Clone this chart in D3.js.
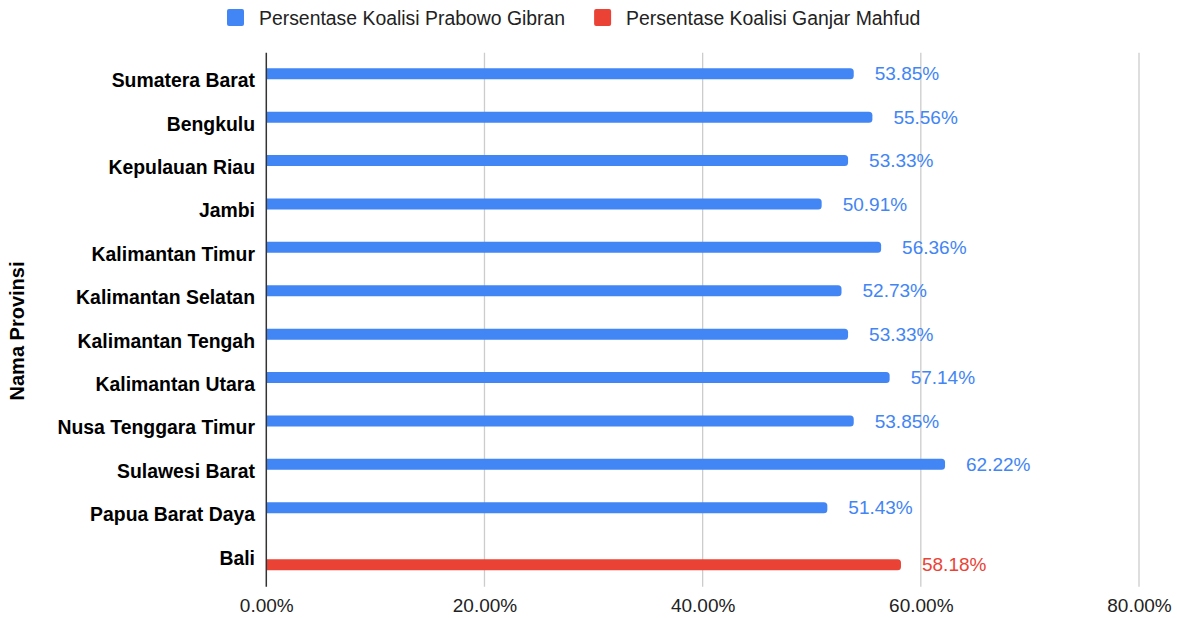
<!DOCTYPE html>
<html>
<head>
<meta charset="utf-8">
<script src="https://cdn.jsdelivr.net/npm/d3@7"></script>
<style>
  body { margin: 0; background: #fff; }
  text { font-family: Arial, "Liberation Sans", sans-serif; }
</style>
</head>
<body>
<div id="chart"></div>
<script>
// data
var provinces = ["Sumatera Barat", "Bengkulu", "Kepulauan Riau", "Jambi", "Kalimantan Timur",
  "Kalimantan Selatan", "Kalimantan Tengah", "Kalimantan Utara", "Nusa Tenggara Timur",
  "Sulawesi Barat", "Papua Barat Daya", "Bali"];
var seriesNames = ["Persentase Koalisi Prabowo Gibran", "Persentase Koalisi Ganjar Mahfud"];
var seriesColors = ["#4285f4", "#ea4335"];
// null = no bar for that province
var prabowoGibran = [0.5385, 0.5556, 0.5333, 0.5091, 0.5636, 0.5273, 0.5333, 0.5714, 0.5385, 0.6222, 0.5143, null];
var ganjarMahfud = [null, null, null, null, null, null, null, null, null, null, null, 0.5818];
var xTicks = [0, 0.2, 0.4, 0.6, 0.8];

var width = 1177, height = 618;

var svg = d3.select("#chart").append("svg")
  .attr("width", width)
  .attr("height", height);

// scales
var x = d3.scaleLinear().domain([0, 0.8]).range([266.3, 1139]);
var y = d3.scaleBand().domain(provinces).range([58.8, 579.6]).padding(0);
var groupW = 24.5;
var ySub = d3.scaleBand().domain(seriesNames)
  .range([(y.bandwidth() - groupW) / 2, (y.bandwidth() + groupW) / 2])
  .paddingInner(0.185);

var gridTop = 52.7, gridBottom = 586.7;

// grid lines
svg.append("g").selectAll("line")
  .data(xTicks.slice(1))
  .enter().append("line")
  .attr("x1", d => x(d)).attr("x2", d => x(d))
  .attr("y1", gridTop).attr("y2", gridBottom)
  .attr("stroke", "#cccccc")
  .attr("stroke-width", 1.3);

// x axis tick labels
var pct = d3.format(".2%");
var xAxis = d3.axisBottom(x).tickValues(xTicks).tickFormat(pct).tickSize(0).tickPadding(0);
var gx = svg.append("g")
  .attr("transform", "translate(0," + gridBottom + ")")
  .call(xAxis);
gx.select(".domain").remove();
gx.selectAll("text")
  .attr("y", 19)
  .attr("dy", "0.35em")
  .attr("font-size", 19)
  .attr("font-family", "Arial, 'Liberation Sans', sans-serif")
  .attr("fill", "#222");

// bars with rounded right end
function barPath(x0, x1, y0, h, r) {
  return "M" + x0 + "," + y0 +
    "H" + (x1 - r) +
    "Q" + x1 + "," + y0 + " " + x1 + "," + (y0 + r) +
    "V" + (y0 + h - r) +
    "Q" + x1 + "," + (y0 + h) + " " + (x1 - r) + "," + (y0 + h) +
    "H" + x0 + "Z";
}

var series = [prabowoGibran, ganjarMahfud];
series.forEach(function(vals, si) {
  var rows = provinces.map((p, i) => ({ p: p, v: vals[i] })).filter(d => d.v != null);
  var g = svg.append("g");
  g.selectAll("path")
    .data(rows)
    .enter().append("path")
    .attr("d", d => barPath(x(0), x(d.v), y(d.p) + ySub(seriesNames[si]), ySub.bandwidth(), 3.5))
    .attr("fill", seriesColors[si]);

  g.selectAll("text")
    .data(rows)
    .enter().append("text")
    .attr("x", d => x(d.v) + 21)
    .attr("y", d => y(d.p) + ySub(seriesNames[si]) + ySub.bandwidth() / 2)
    .attr("dy", "0.35em")
    .attr("font-family", "Roboto, sans-serif")
    .attr("font-size", 19)
    .attr("fill", seriesColors[si])
    .text(d => pct(d.v));
});

// baseline at zero
svg.append("line")
  .attr("x1", x(0)).attr("x2", x(0))
  .attr("y1", gridTop).attr("y2", gridBottom)
  .attr("stroke", "#333")
  .attr("stroke-width", 1.5);

// category labels
svg.append("g").selectAll("text")
  .data(provinces)
  .enter().append("text")
  .attr("x", 255)
  .attr("y", d => y(d) + y.bandwidth() / 2)
  .attr("dy", "0.35em")
  .attr("text-anchor", "end")
  .attr("font-size", 19.4)
  .attr("font-weight", "bold")
  .attr("fill", "#000")
  .text(d => d);

// axis title
svg.append("text")
  .attr("transform", "translate(17,331) rotate(-90)")
  .attr("dy", "0.35em")
  .attr("text-anchor", "middle")
  .attr("font-size", 20)
  .attr("font-weight", "bold")
  .attr("fill", "#000")
  .text("Nama Provinsi");

// legend
var legend = svg.append("g");
var lx = 227;
seriesNames.forEach(function(name, i) {
  legend.append("rect")
    .attr("x", lx).attr("y", 9)
    .attr("width", 17).attr("height", 17)
    .attr("rx", 2)
    .attr("fill", seriesColors[i]);
  var t = legend.append("text")
    .attr("x", lx + 32)
    .attr("y", 18)
    .attr("dy", "0.35em")
    .attr("font-size", 19.4)
    .attr("fill", "#222")
    .text(name);
  lx = lx + 32 + t.node().getComputedTextLength() + 29;
});
</script>
</body>
</html>
